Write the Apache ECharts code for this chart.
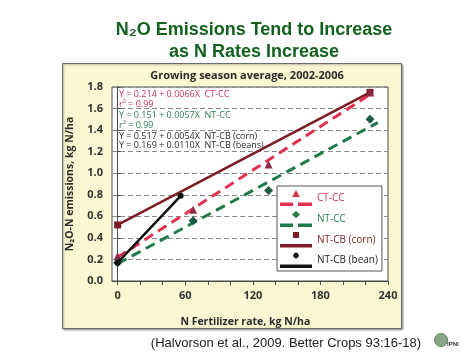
<!DOCTYPE html>
<html>
<head>
<meta charset="utf-8">
<script src="https://cdn.jsdelivr.net/npm/echarts@6/dist/echarts.min.js"></script>
<style>html,body{margin:0;padding:0;background:#fff;}#c{width:474px;height:355px;}</style>
</head>
<body>
<div id="c"></div>
<script>
// ---- data ----
const ccRates = [0, 67, 134, 224];
const ctccObs = [0.23, 0.66, 1.08, 1.75];
const ntccObs = [0.17, 0.56, 0.84, 1.50];
const cornRates = [0, 224];
const cornObs = [0.52, 1.75];
const beanRates = [0, 56];
const beanObs = [0.17, 0.79];
const ctccFitX = [0, 224];
const ctccFitY = [0.22, 1.73];
const ntccFitX = [0, 231];
const ntccFitY = [0.16, 1.47];
const xTickLabels = [0, 60, 120, 180, 240];
const yTickLabels = [0.0, 0.2, 0.4, 0.6, 0.8, 1.0, 1.2, 1.4, 1.6, 1.8];
const seriesNames = ['CT-CC', 'NT-CC', 'NT-CB (corn)', 'NT-CB (bean)'];
const equations = [
  'Y = 0.214 + 0.0066X  CT-CC',
  'r² = 0.99',
  'Y = 0.151 + 0.0057X  NT-CC',
  'r² = 0.99',
  'Y = 0.517 + 0.0054X  NT-CB (corn)',
  'Y = 0.169 + 0.0110X  NT-CB (beans)'
];
const titleText = 'N₂O Emissions Tend to Increase\nas N Rates Increase';
const panelTitle = 'Growing season average, 2002-2006';
const xName = 'N Fertilizer rate, kg N/ha';
const yName = 'N₂O-N emissions, kg N/ha';
const citation = '(Halvorson et al., 2009. Better Crops 93:16-18)';

const pairs = (xs, ys) => xs.map((x, i) => [x, ys[i]]);

const F = '"Open Sans", "DejaVu Sans", sans-serif';
const C_RED = '#e2304f', C_RED_T = '#d0325a', C_RED_M = '#8e2a45';
const C_GRN = '#1f7a4c', C_GRN_T = '#2a7d55', C_GRN_M = '#1e5c44';
const C_CORN = '#7c1c26';
const C_BEAN = '#111';

const eqColors = [C_RED_T, C_RED_T, C_GRN_T, C_GRN_T, '#2a2a2a', '#2a2a2a'];
const eqY = [94, 104.5, 115.5, 125.5, 136, 145.5];

const chart = echarts.init(document.getElementById('c'), null, {renderer: 'canvas'});

const gridTop = 87, gridBottom = 74, gridRight = 86, gridLeft0 = 112;
const plotW = 474 - gridRight - gridLeft0;
const xMin0 = -5, xMax = 240;
const gridLeft1 = gridLeft0 + (0 - xMin0) * plotW / (xMax - xMin0);

const dashed = [10, 6];

const option = {
  animation: false,
  backgroundColor: '#ffffff',
  textStyle: {fontFamily: F},
  graphic: [
    {type: 'rect', z: -100, shape: {x: 62.5, y: 63.5, width: 339, height: 265},
      style: {fill: '#fdf6d2', stroke: '#6b6b6b', lineWidth: 1, shadowBlur: 2, shadowColor: 'rgba(0,0,0,0.35)', shadowOffsetX: 1, shadowOffsetY: 1}},
    {type: 'text', z: 100, style: {x: 254, y: 41, text: titleText, textAlign: 'center', textVerticalAlign: 'middle',
      font: 'bold 18px "Liberation Sans", Arial, "DejaVu Sans", sans-serif', fill: '#13611f', lineHeight: 22}},
    {type: 'text', z: 100, style: {x: 247, y: 76, text: panelTitle, textAlign: 'center', textVerticalAlign: 'middle',
      font: 'bold 11px ' + F, fill: '#2a2a2a'}},
    ...equations.map((t, i) => ({type: 'text', z: 100, style: {x: 119, y: eqY[i], text: t, textVerticalAlign: 'middle',
      font: '9px ' + F, fill: eqColors[i]}})),
    {type: 'text', z: 100, style: {x: 286, y: 343, text: citation, textAlign: 'center', textVerticalAlign: 'middle',
      font: '13px "Liberation Sans", Arial, sans-serif', fill: '#222'}},
    {type: 'circle', z: 100, shape: {cx: 441, cy: 340, r: 6.5}, style: {fill: '#8aa58a', stroke: '#5f7f62', lineWidth: 1}},
    {type: 'text', z: 101, style: {x: 447, y: 344, text: 'IPNI', textVerticalAlign: 'middle', font: 'bold 6px "Liberation Sans", Arial, sans-serif', fill: '#333'}}
  ],
  grid: [
    {left: gridLeft0, right: gridRight, top: gridTop, bottom: gridBottom, show: true, backgroundColor: '#fff', borderColor: '#4a4a4a', borderWidth: 1},
    {left: gridLeft1, right: gridRight, top: gridTop, bottom: gridBottom, show: false}
  ],
  xAxis: [
    {type: 'value', gridIndex: 0, min: xMin0, max: xMax, axisLine: {show: true, lineStyle: {color: '#4a4a4a'}},
      axisTick: {show: false}, axisLabel: {show: false}, splitLine: {show: false}},
    {type: 'value', gridIndex: 1, min: xTickLabels[0], max: xTickLabels[xTickLabels.length - 1], interval: 20,
      axisLine: {show: false},
      axisTick: {show: true, length: 4, inside: false, lineStyle: {color: '#4a4a4a'}},
      axisLabel: {margin: 9, fontSize: 11, fontWeight: 'bold', color: '#333', fontFamily: F,
        formatter: v => (xTickLabels.indexOf(v) >= 0 ? String(v) : '')},
      splitLine: {show: false},
      name: xName, nameLocation: 'middle', nameGap: 36,
      nameTextStyle: {fontSize: 10.5, fontWeight: 'bold', color: '#2a2a2a', fontFamily: F, padding: [0, 15, 0, 0]}}
  ],
  yAxis: [
    {type: 'value', gridIndex: 0, min: yTickLabels[0], max: yTickLabels[yTickLabels.length - 1], interval: 0.2,
      axisLine: {show: true, lineStyle: {color: '#4a4a4a'}},
      axisTick: {show: true, inside: true, length: 3, lineStyle: {color: '#4a4a4a'}},
      axisLabel: {margin: 9, fontSize: 11, fontWeight: 'bold', color: '#333', fontFamily: F, formatter: v => v.toFixed(1)},
      splitLine: {show: true, lineStyle: {color: '#8a8a8a', type: [5, 3], width: 1}},
      name: yName, nameLocation: 'middle', nameGap: 36,
      nameTextStyle: {fontSize: 10.5, fontWeight: 'bold', color: '#2a2a2a', fontFamily: F}},
    {type: 'value', gridIndex: 1, min: yTickLabels[0], max: yTickLabels[yTickLabels.length - 1], interval: 0.2, show: false}
  ],
  legend: {
    orient: 'vertical', left: 277, top: 186, width: 100,
    backgroundColor: '#fff', borderColor: '#555', borderWidth: 1, borderRadius: 0,
    padding: [4, 4, 3, 3], itemGap: 5, itemWidth: 32, itemHeight: 16,
    selectedMode: false,
    itemStyle: {borderWidth: 0},
    textStyle: {fontSize: 10, fontFamily: F, padding: [11, 0, 0, 0]},
    data: [
      {name: seriesNames[0], icon: 'path://M16,0 L19.8,7 L12.2,7 Z M0,12.5 H13 V16 H0 Z M18,12.5 H32 V16 H18 Z',
        itemStyle: {color: C_RED}, textStyle: {color: C_RED_T}},
      {name: seriesNames[1], icon: 'path://M16,0 L20,3.6 L16,7.2 L12,3.6 Z M0,12.5 H13 V16 H0 Z M18,12.5 H32 V16 H18 Z',
        itemStyle: {color: C_GRN}, textStyle: {color: C_GRN_T}},
      {name: seriesNames[2], icon: 'path://M13,0.5 H19 V6.5 H13 Z M0,12.5 H32 V16 H0 Z',
        itemStyle: {color: C_CORN}, textStyle: {color: C_CORN}},
      {name: seriesNames[3], icon: 'path://M16,0.5 L18.1,1.4 L19,3.5 L18.1,5.6 L16,6.5 L13.9,5.6 L13,3.5 L13.9,1.4 Z M0,12.5 H32 V16 H0 Z',
        itemStyle: {color: C_BEAN}, textStyle: {color: '#222'}}
    ]
  },
  series: [
    {name: seriesNames[1], type: 'line', xAxisIndex: 1, yAxisIndex: 1, data: pairs(ntccFitX, ntccFitY),
      showSymbol: false, lineStyle: {color: C_GRN, width: 3, type: dashed}, itemStyle: {color: C_GRN}, z: 3},
    {name: seriesNames[0], type: 'line', xAxisIndex: 1, yAxisIndex: 1, data: pairs(ctccFitX, ctccFitY),
      showSymbol: false, lineStyle: {color: C_RED, width: 3, type: dashed}, itemStyle: {color: C_RED}, z: 4},
    {name: seriesNames[2], type: 'line', xAxisIndex: 1, yAxisIndex: 1, data: pairs(cornRates, cornObs),
      symbol: 'rect', symbolSize: 7, showSymbol: true, lineStyle: {color: C_CORN, width: 2.5}, itemStyle: {color: C_CORN}, z: 5},
    {name: seriesNames[0], type: 'scatter', xAxisIndex: 1, yAxisIndex: 1, data: pairs(ccRates, ctccObs),
      symbol: 'triangle', symbolSize: 8, itemStyle: {color: C_RED_M, opacity: 1}, z: 6},
    {name: seriesNames[1], type: 'scatter', xAxisIndex: 1, yAxisIndex: 1, data: pairs(ccRates, ntccObs),
      symbol: 'diamond', symbolSize: 9, itemStyle: {color: C_GRN_M, opacity: 1}, z: 6},
    {name: seriesNames[3], type: 'line', xAxisIndex: 1, yAxisIndex: 1, data: pairs(beanRates, beanObs),
      symbol: 'circle', symbolSize: 6, showSymbol: true, lineStyle: {color: C_BEAN, width: 2.5}, itemStyle: {color: C_BEAN}, z: 7}
  ]
};
chart.setOption(option);
</script>
</body>
</html>
